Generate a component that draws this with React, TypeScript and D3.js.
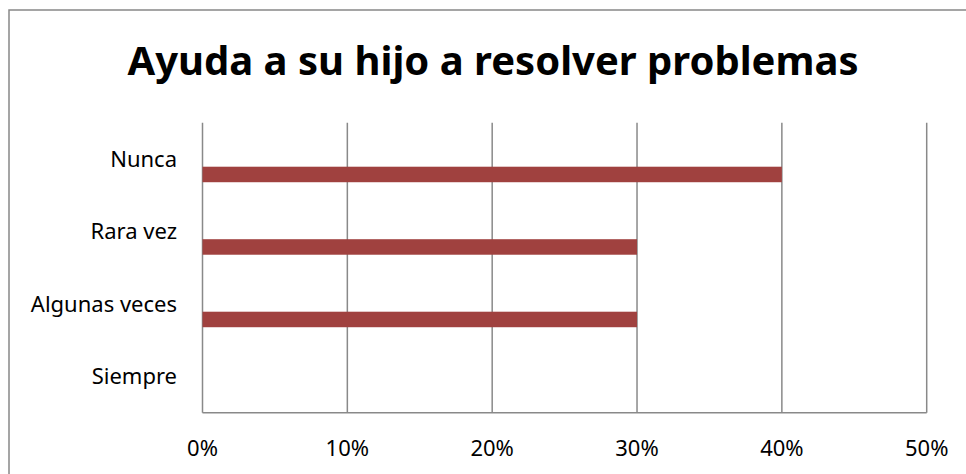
import React from "react";
import * as d3 from "d3";

const title = "Ayuda a su hijo a resolver problemas";
const categories = ["Nunca", "Rara vez", "Algunas veces", "Siempre"];
const values = [0.4, 0.3, 0.3, 0];
const ticks = [0, 0.1, 0.2, 0.3, 0.4, 0.5];

const W = 966;
const H = 474;
const font = "'Noto Sans', 'Open Sans', sans-serif";

export default function App() {
  const x = d3.scaleLinear().domain([0, 0.5]).range([202.5, 926.7]);
  const y = d3.scaleBand<string>().domain(categories).range([122.7, 412.7]).padding(0);
  const bw = y.bandwidth();
  const fmt = d3.format(".0%");
  const grid = "#898989";

  return (
    <svg
      width={W}
      height={H}
      style={{ position: "absolute", left: 0, top: 0, background: "#fff" }}
    >
      <rect x={0} y={0} width={W} height={H} fill="#fff" />
      <rect x={9} y={10} width={W + 20} height={H + 20} fill="#fff" stroke="#888" strokeWidth={1.5} />
      <text
        x={493}
        y={75}
        textAnchor="middle"
        fontFamily={font}
        fontWeight="bold"
        fontSize={40}
        fill="#000"
      >
        {title}
      </text>
      {ticks.map((t) => (
        <line key={"g" + t} x1={x(t)} x2={x(t)} y1={y.range()[0]} y2={y.range()[1]} stroke={grid} strokeWidth={1.5} />
      ))}
      <line x1={x(0)} x2={x(0.5)} y1={y.range()[1]} y2={y.range()[1]} stroke={grid} strokeWidth={1.5} />
      {categories.map((c, i) => (
        <rect
          key={"b" + c}
          x={x(0)}
          y={(y(c) as number) + 0.607 * bw}
          width={x(values[i]) - x(0)}
          height={0.214 * bw}
          fill="#A0413F"
        />
      ))}
      {categories.map((c) => (
        <text
          key={"l" + c}
          x={177}
          y={(y(c) as number) + bw / 2}
          dy="0.35em"
          textAnchor="end"
          fontFamily={font}
          fontSize={22}
          fill="#000"
        >
          {c}
        </text>
      ))}
      {ticks.map((t) => (
        <text
          key={"t" + t}
          x={x(t)}
          y={455.7}
          textAnchor="middle"
          fontFamily={font}
          fontSize={22}
          fill="#000"
        >
          {fmt(t)}
        </text>
      ))}
    </svg>
  );
}
